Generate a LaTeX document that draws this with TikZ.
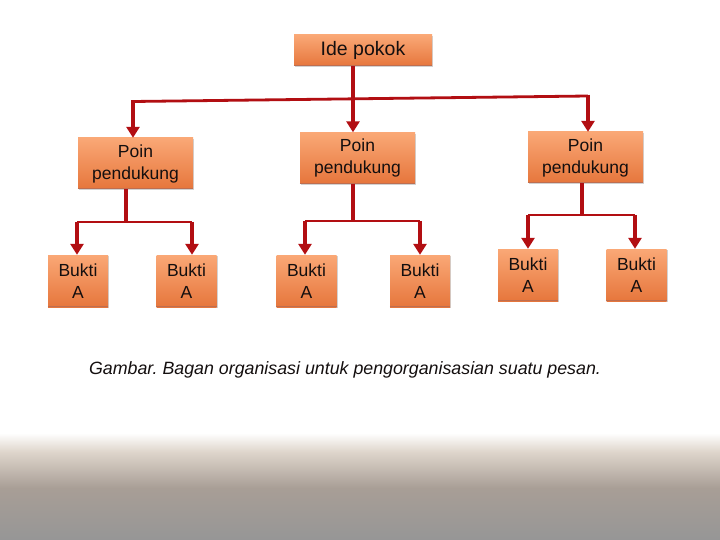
\documentclass[tikz,border=0pt]{standalone}
\usepackage{fontspec}
\setmainfont{Liberation Sans}
\usetikzlibrary{arrows.meta,shadows,calc}
\definecolor{boxtop}{RGB}{250,168,118}
\definecolor{boxbot}{RGB}{230,118,60}
\definecolor{boxedge}{RGB}{190,110,80}
\definecolor{lnred}{RGB}{178,14,18}
\definecolor{txt}{RGB}{20,15,15}
\definecolor{bgA}{RGB}{222,213,203}
\definecolor{bgB}{RGB}{168,158,150}
\definecolor{bgC}{RGB}{150,150,150}
\frenchspacing
\begin{document}
\begin{tikzpicture}[x=1pt,y=-1pt,
  box/.style={draw=none, top color=boxtop, bottom color=boxbot,
    drop shadow={shadow xshift=1.2pt,shadow yshift=-1.2pt,opacity=0.35},
    text=txt, align=center, inner sep=0pt},
  ide/.style={box, minimum width=138pt, minimum height=31pt, font=\fontsize{19.5}{21}\selectfont},
  poin/.style={box, minimum width=115pt, minimum height=51pt, font=\fontsize{17.5}{22}\selectfont},
  bukti/.style={box, minimum width=60pt, minimum height=52pt, font=\fontsize{17.5}{22}\selectfont},
  arr/.style={draw=lnred, line width=3.6pt, -{Triangle[width=13pt,length=11pt]}},
  stem/.style={draw=lnred, line width=3.6pt},
  thin/.style={draw=lnred, line width=1.6pt},
  thick/.style={draw=lnred, line width=2.8pt},
  edge/.style={draw=boxedge, line width=1pt}]
\useasboundingbox (0,0) rectangle (720,540);
\fill[white] (0,0) rectangle (720,540);
\shade[top color=white, bottom color=bgA] (0,433) rectangle (720,452);
\shade[top color=bgA, bottom color=bgB] (0,452) rectangle (720,488);
\shade[top color=bgB, bottom color=bgC] (0,488) rectangle (720,540);

% nodes
\node[ide] (ide) at (363,50.5) {Ide pokok};
\node[poin] (p1) at (135.5,163.5) {Poin\\pendukung};
\node[poin] (p2) at (357.5,158) {Poin\\pendukung};
\node[poin] (p3) at (585.5,157.5) {Poin\\pendukung};
\node[bukti] (b1) at (78,281) {Bukti\\A};
\node[bukti] (b2) at (186.5,281) {Bukti\\A};
\node[bukti] (b3) at (306.5,281) {Bukti\\A};
\node[bukti] (b4) at (420,281) {Bukti\\A};
\node[bukti] (b5) at (528,275) {Bukti\\A};
\node[bukti] (b6) at (636.5,275) {Bukti\\A};

% darker bottom edges of the boxes
\foreach \n in {ide,p1,p2,p3,b1,b2,b3,b4,b5,b6}
  \draw[edge] ($(\n.south west)+(0,-0.5)$) -- ($(\n.south east)+(0,-0.5)$);

% junction coordinates
\coordinate (hl) at (133,101.5);
\coordinate (hr) at (588,96);
\coordinate (s2) at (353,98);
\coordinate (j1) at (126,222);
\coordinate (j1l) at (77,222);
\coordinate (j1r) at (192,222);
\coordinate (j2) at (353,220);
\coordinate (j2l) at (305,221);
\coordinate (j2r) at (420,221);
\coordinate (j3) at (582,215);
\coordinate (j3l) at (528,215);
\coordinate (j3r) at (635,215);

% level 1
\draw[thick] (hl) -- (hr);
\draw[arr] (ide.south -| s2) -- (p2.north -| s2);
\draw[arr] ($(hl)+(0,-1.4)$) -- (p1.north -| hl);
\draw[arr] ($(hr)+(0,-1.4)$) -- (p3.north -| hr);

% level 2
\draw[stem] (p1.south -| j1) -- (j1);
\draw[thin] (j1l) -- (j1r);
\draw[arr] (j1l) -- (b1.north -| j1l);
\draw[arr] (j1r) -- (b2.north -| j1r);

\draw[stem] (p2.south -| j2) -- (j2);
\draw[thin] (j2l) -- (j2r);
\draw[arr] (j2l) -- (b3.north -| j2l);
\draw[arr] (j2r) -- (b4.north -| j2r);

\draw[stem] (p3.south -| j3) -- (j3);
\draw[thin] (j3l) -- (j3r);
\draw[arr] (j3l) -- (b5.north -| j3l);
\draw[arr] (j3r) -- (b6.north -| j3r);

\node[text=txt, font=\fontsize{17.8}{20}\selectfont\itshape] (cap) at (345,370)
  {Gambar. Bagan organisasi untuk pengorganisasian suatu pesan.};
\end{tikzpicture}
\end{document}
